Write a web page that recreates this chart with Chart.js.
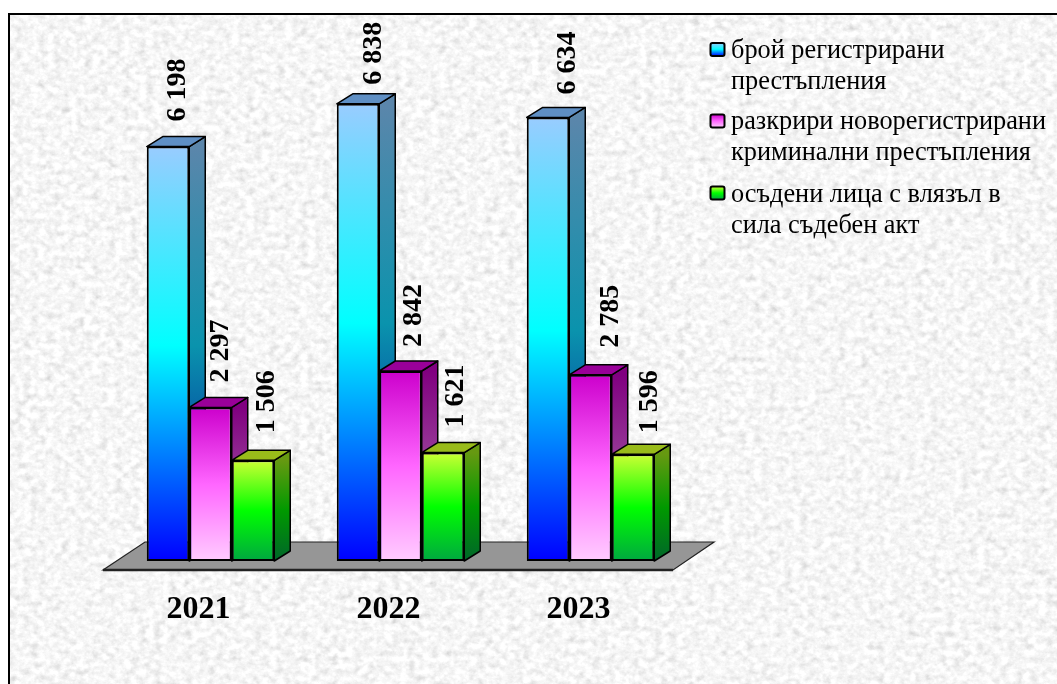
<!DOCTYPE html>
<html>
<head>
<meta charset="utf-8">
<title>chart</title>
<script src="https://cdn.jsdelivr.net/npm/chart.js@4"></script>
<style>
  html, body { margin: 0; padding: 0; background: #fff; overflow: hidden; }
  #paper { position: absolute; left: 8px; top: 13px; width: 1049px; height: 671px; }
  #frame { position: absolute; left: 8px; top: 13px; right: 0; bottom: 0; border-left: 2px solid #000; border-top: 2px solid #000; }
  #wrap { position: absolute; left: 0; top: 0; width: 1057px; height: 684px; }
</style>
</head>
<body>
<svg id="paper" xmlns="http://www.w3.org/2000/svg">
  <filter id="grain" x="0" y="0" width="100%" height="100%">
    <feTurbulence type="fractalNoise" baseFrequency="0.13 0.16" numOctaves="4" seed="7"/>
    <feColorMatrix type="matrix" values="0.36 0.36 0 0 0.56  0.36 0.36 0 0 0.56  0.36 0.36 0 0 0.56  0 0 0 0 1"/>
  </filter>
  <rect width="100%" height="100%" filter="url(#grain)"/>
</svg>
<div id="frame"></div>
<div id="wrap"><canvas id="chart" width="1057" height="684"></canvas></div>
<script>
const categories = ['2021', '2022', '2023'];
const registered = [6198, 6838, 6634];
const solved = [2297, 2842, 2785];
const convicted = [1506, 1621, 1596];
const seriesNames = [
  ['брой регистрирани', 'престъпления'],
  ['разкрири новорегистрирани', 'криминални престъпления'],
  ['осъдени лица с влязъл в', 'сила съдебен акт']
];

const serif = '"Liberation Serif", "Times New Roman", serif';
const depthX = 16;
const depthY = 10;

// value labels were placed by hand in the original: [right of bar centre, above bar top]
const labelNudge = [
  [[9, 25], [15, 19], [19, 23]],
  [[9, 25], [12, 24], [19, 27]],
  [[13, 27], [12, 25], [16, 21]]
];

const looks = [
  {
    front: [[0, '#99ccff'], [0.48, '#00ffff'], [1, '#0000ff']],
    side: [[0, '#5b86ab'], [0.48, '#0a93ad'], [1, '#00009a']],
    top: '#5f8fc4'
  },
  {
    front: [[0, '#cc00cc'], [0.5, '#ff66ff'], [1, '#ffccff']],
    side: [[0, '#800080'], [0.5, '#99409a'], [1, '#997a99']],
    top: '#990099'
  },
  {
    front: [[0, '#ccff33'], [0.5, '#00ff00'], [1, '#00a840']],
    side: [[0, '#669911'], [0.5, '#009900'], [1, '#00662a']],
    top: '#99bb1a'
  }
];

function gradient(ctx, y0, y1, stops) {
  const g = ctx.createLinearGradient(0, y0, 0, y1);
  stops.forEach(s => g.addColorStop(s[0], s[1]));
  return g;
}

function barFill(index) {
  return function (c) {
    const chart = c.chart;
    if (!chart.chartArea || c.raw === undefined) return looks[index].front[0][1];
    const y = chart.scales.y;
    return gradient(chart.ctx, y.getPixelForValue(c.raw), y.getPixelForValue(0), looks[index].front);
  };
}

function formatValue(v) {
  return String(v).replace(/\B(?=(\d{3})+$)/g, ' ');
}

function drawFaces(chart, index) {
  const ctx = chart.ctx;
  const look = looks[index];
  const base = chart.scales.y.getPixelForValue(0);
  ctx.save();
  ctx.lineWidth = 1.5;
  ctx.strokeStyle = '#000';
  ctx.lineJoin = 'round';
  chart.getDatasetMeta(index).data.forEach(bar => {
    const r = bar.x + bar.width / 2;
    const l = bar.x - bar.width / 2;
    ctx.beginPath();
    ctx.moveTo(r, bar.y);
    ctx.lineTo(r + depthX, bar.y - depthY);
    ctx.lineTo(r + depthX, base - depthY);
    ctx.lineTo(r, base);
    ctx.closePath();
    ctx.fillStyle = gradient(ctx, bar.y, base, look.side);
    ctx.fill();
    ctx.stroke();
    ctx.beginPath();
    ctx.moveTo(l, bar.y);
    ctx.lineTo(l + depthX, bar.y - depthY);
    ctx.lineTo(r + depthX, bar.y - depthY);
    ctx.lineTo(r, bar.y);
    ctx.closePath();
    ctx.fillStyle = look.top;
    ctx.fill();
    ctx.stroke();
  });
  ctx.restore();
}

// floor, side and top faces of the bars, value labels, legend
const fake3d = {
  id: 'fake3d',
  beforeDatasetsDraw(chart) {
    const ctx = chart.ctx;
    const a = chart.chartArea;
    ctx.save();
    ctx.beginPath();
    ctx.moveTo(a.left - 12.5, a.bottom + 9);
    ctx.lineTo(a.left + 29.5, a.bottom - 19);
    ctx.lineTo(a.right + 28.5, a.bottom - 19);
    ctx.lineTo(a.right - 12.5, a.bottom + 9);
    ctx.closePath();
    ctx.fillStyle = '#969696';
    ctx.fill();
    ctx.lineWidth = 1.2;
    ctx.strokeStyle = '#222';
    ctx.stroke();
    ctx.beginPath();
    ctx.moveTo(a.left - 12.5, a.bottom + 9);
    ctx.lineTo(a.right - 12.5, a.bottom + 9);
    ctx.lineWidth = 2.5;
    ctx.stroke();
    ctx.restore();
    // left to right, so every bar covers the side of its neighbour
    chart.data.datasets.forEach((ds, i) => {
      drawFaces(chart, i);
      chart.getDatasetMeta(i).controller.draw();
    });
  },
  beforeDatasetDraw() {
    return false;
  },
  afterDatasetsDraw(chart) {
    const ctx = chart.ctx;
    ctx.save();
    ctx.fillStyle = '#000';
    ctx.font = 'bold 28px ' + serif;
    ctx.textAlign = 'left';
    ctx.textBaseline = 'middle';
    chart.data.datasets.forEach((ds, i) => {
      chart.getDatasetMeta(i).data.forEach((bar, j) => {
        ctx.save();
        ctx.translate(bar.x + labelNudge[i][j][0], bar.y - labelNudge[i][j][1]);
        ctx.rotate(-Math.PI / 2);
        ctx.fillText(formatValue(ds.data[j]), 0, 1);
        ctx.restore();
      });
    });
    // legend
    const markers = [50, 121.5, 193.5];
    const rows = [51.5, 122.5, 195];
    ctx.font = '26.3px ' + serif;
    seriesNames.forEach((lines, i) => {
      const y = markers[i];
      ctx.beginPath();
      ctx.roundRect(710.5, y - 7, 14, 13, 2);
      ctx.fillStyle = gradient(ctx, y - 7, y + 6, looks[i].front);
      ctx.fill();
      ctx.lineWidth = 2;
      ctx.strokeStyle = '#000';
      ctx.stroke();
      ctx.fillStyle = '#000';
      lines.forEach((t, k) => ctx.fillText(t, 731, rows[i] + k * 31));
    });
    ctx.restore();
  }
};

new Chart(document.getElementById('chart').getContext('2d'), {
  type: 'bar',
  data: {
    labels: categories,
    datasets: [
      { label: seriesNames[0].join(' '), data: registered, backgroundColor: barFill(0) },
      { label: seriesNames[1].join(' '), data: solved, backgroundColor: barFill(1) },
      { label: seriesNames[2].join(' '), data: convicted, backgroundColor: barFill(2) }
    ]
  },
  options: {
    responsive: false,
    animation: false,
    layout: { padding: { left: 115.5, right: 371.5, top: 93, bottom: 0 } },
    datasets: {
      bar: {
        categoryPercentage: 0.671,
        barPercentage: 1,
        borderColor: '#000',
        borderWidth: 2,
        borderSkipped: false
      }
    },
    plugins: {
      legend: { display: false },
      title: { display: false },
      tooltip: { enabled: false }
    },
    scales: {
      x: {
        grid: { display: false },
        border: { display: false },
        ticks: {
          color: '#000',
          font: { family: serif, size: 32, weight: 'bold' },
          padding: 22,
          labelOffset: -12,
          maxRotation: 0
        },
        afterFit(scale) { scale.height = 123; }
      },
      y: { display: false, min: 0, max: 7000 }
    }
  },
  plugins: [fake3d]
});
</script>
</body>
</html>
